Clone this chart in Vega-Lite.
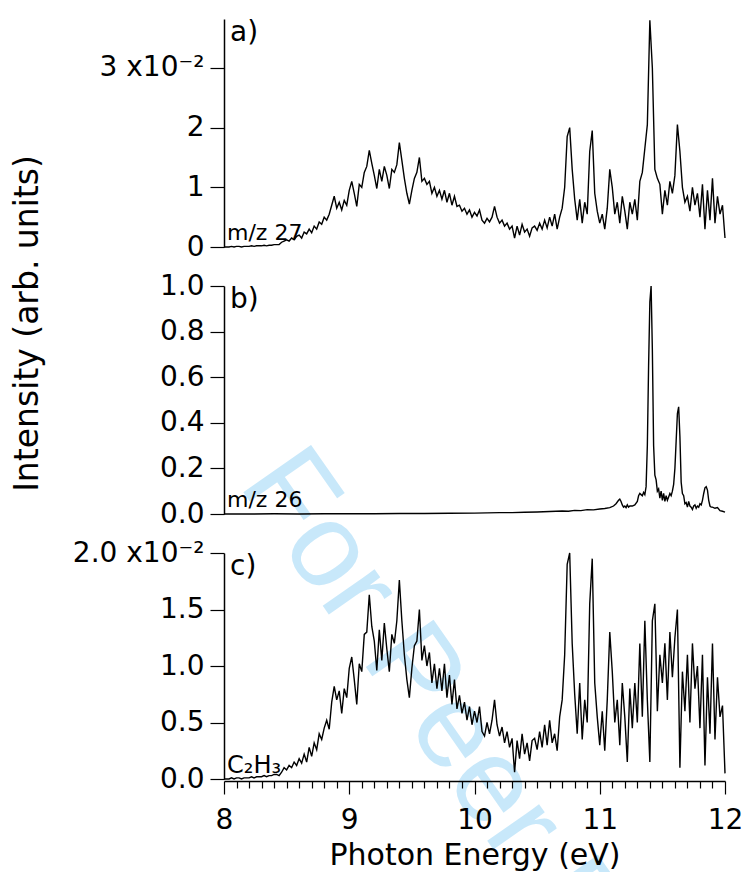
{
"$schema": "https://vega.github.io/schema/vega-lite/v6.json",
"padding": {"left": 10, "top": 17, "right": 20, "bottom": 5},
"background": "white",
"config": {
 "view": {"stroke": null},
 "axis": {"grid": false, "domainColor": "#000", "tickColor": "#000", "labelColor": "#000", "titleColor": "#000", "domainWidth": 1.5, "tickWidth": 1.2, "labelFont": "DejaVu Sans", "titleFont": "DejaVu Sans", "titleFontWeight": "normal"},
 "text": {"font": "DejaVu Sans", "color": "#000"}
},
"datasets": {
 "a": [
{"e":8.00,"v":0},{"e":8.02,"v":0},{"e":8.04,"v":0},{"e":8.06,"v":0.0001},{"e":8.08,"v":0},{"e":8.10,"v":0.0001},{"e":8.12,"v":0.0001},{"e":8.14,"v":0},{"e":8.16,"v":0.0001},{"e":8.18,"v":0.0001},
{"e":8.20,"v":0.0001},{"e":8.22,"v":0.0002},{"e":8.24,"v":0.0001},{"e":8.26,"v":0.0002},{"e":8.28,"v":0.0002},{"e":8.30,"v":0.0002},{"e":8.32,"v":0.0003},{"e":8.34,"v":0.0002},{"e":8.36,"v":0.0003},{"e":8.38,"v":0.0003},
{"e":8.40,"v":0.0004},{"e":8.42,"v":0.0004},{"e":8.44,"v":0.0004},{"e":8.46,"v":0.0008},{"e":8.48,"v":0.0010},{"e":8.50,"v":0.0012},{"e":8.52,"v":0.0010},{"e":8.54,"v":0.0015},{"e":8.56,"v":0.0012},{"e":8.58,"v":0.0018},
{"e":8.60,"v":0.0020},{"e":8.62,"v":0.0015},{"e":8.64,"v":0.0025},{"e":8.66,"v":0.0022},{"e":8.68,"v":0.0030},{"e":8.70,"v":0.0024},{"e":8.72,"v":0.0035},{"e":8.74,"v":0.0030},{"e":8.76,"v":0.0042},{"e":8.78,"v":0.0038},
{"e":8.80,"v":0.0050},{"e":8.82,"v":0.0045},{"e":8.84,"v":0.0055},{"e":8.86,"v":0.0070},{"e":8.88,"v":0.0085},{"e":8.90,"v":0.0065},{"e":8.92,"v":0.0075},{"e":8.94,"v":0.0062},{"e":8.96,"v":0.0078},{"e":8.98,"v":0.0070},
{"e":9.00,"v":0.0095},{"e":9.02,"v":0.0110},{"e":9.04,"v":0.0090},{"e":9.06,"v":0.0068},{"e":9.08,"v":0.0105},{"e":9.10,"v":0.0100},{"e":9.12,"v":0.0125},{"e":9.14,"v":0.0135},{"e":9.16,"v":0.0162},{"e":9.18,"v":0.0140},
{"e":9.20,"v":0.0120},{"e":9.22,"v":0.0098},{"e":9.24,"v":0.0130},{"e":9.26,"v":0.0110},{"e":9.28,"v":0.0135},{"e":9.30,"v":0.0120},{"e":9.32,"v":0.0098},{"e":9.34,"v":0.0130},{"e":9.36,"v":0.0125},{"e":9.38,"v":0.0138},
{"e":9.40,"v":0.0175},{"e":9.42,"v":0.0145},{"e":9.44,"v":0.0115},{"e":9.46,"v":0.0090},{"e":9.48,"v":0.0072},{"e":9.50,"v":0.0095},{"e":9.52,"v":0.0115},{"e":9.54,"v":0.0125},{"e":9.56,"v":0.0150},{"e":9.58,"v":0.0110},
{"e":9.60,"v":0.0115},{"e":9.62,"v":0.0105},{"e":9.64,"v":0.0110},{"e":9.66,"v":0.0090},{"e":9.68,"v":0.0100},{"e":9.70,"v":0.0085},{"e":9.72,"v":0.0095},{"e":9.74,"v":0.0080},{"e":9.76,"v":0.0095},{"e":9.78,"v":0.0075},
{"e":9.80,"v":0.0090},{"e":9.82,"v":0.0070},{"e":9.84,"v":0.0085},{"e":9.86,"v":0.0068},{"e":9.88,"v":0.0070},{"e":9.90,"v":0.0060},{"e":9.92,"v":0.0065},{"e":9.94,"v":0.0055},{"e":9.96,"v":0.0062},{"e":9.98,"v":0.0050},
{"e":10.00,"v":0.0058},{"e":10.02,"v":0.0052},{"e":10.04,"v":0.0062},{"e":10.06,"v":0.0045},{"e":10.08,"v":0.0040},{"e":10.10,"v":0.0048},{"e":10.12,"v":0.0042},{"e":10.14,"v":0.0050},{"e":10.16,"v":0.0068},{"e":10.18,"v":0.0050},
{"e":10.20,"v":0.0040},{"e":10.22,"v":0.0045},{"e":10.24,"v":0.0035},{"e":10.26,"v":0.0040},{"e":10.28,"v":0.0030},{"e":10.30,"v":0.0035},{"e":10.32,"v":0.0015},{"e":10.34,"v":0.0035},{"e":10.36,"v":0.0020},{"e":10.38,"v":0.0038},
{"e":10.40,"v":0.0025},{"e":10.42,"v":0.0030},{"e":10.44,"v":0.0018},{"e":10.46,"v":0.0032},{"e":10.48,"v":0.0035},{"e":10.50,"v":0.0028},{"e":10.52,"v":0.0040},{"e":10.54,"v":0.0030},{"e":10.56,"v":0.0045},{"e":10.58,"v":0.0032},
{"e":10.60,"v":0.0050},{"e":10.62,"v":0.0035},{"e":10.64,"v":0.0055},{"e":10.66,"v":0.0030},{"e":10.68,"v":0.0050},{"e":10.70,"v":0.0065},{"e":10.72,"v":0.0100},{"e":10.74,"v":0.0185},{"e":10.76,"v":0.0200},{"e":10.78,"v":0.0130},
{"e":10.80,"v":0.0080},{"e":10.82,"v":0.0045},{"e":10.84,"v":0.0080},{"e":10.86,"v":0.0040},{"e":10.88,"v":0.0075},{"e":10.90,"v":0.0055},{"e":10.92,"v":0.0160},{"e":10.94,"v":0.0195},{"e":10.96,"v":0.0090},{"e":10.98,"v":0.0060},
{"e":11.00,"v":0.0040},{"e":11.02,"v":0.0055},{"e":11.04,"v":0.0030},{"e":11.06,"v":0.0065},{"e":11.08,"v":0.0130},{"e":11.10,"v":0.0100},{"e":11.12,"v":0.0055},{"e":11.14,"v":0.0075},{"e":11.16,"v":0.0040},{"e":11.18,"v":0.0085},
{"e":11.20,"v":0.0060},{"e":11.22,"v":0.0030},{"e":11.24,"v":0.0075},{"e":11.26,"v":0.0055},{"e":11.28,"v":0.0080},{"e":11.30,"v":0.0045},{"e":11.32,"v":0.0110},{"e":11.34,"v":0.0125},{"e":11.36,"v":0.0165},{"e":11.38,"v":0.0205},
{"e":11.40,"v":0.0380},{"e":11.42,"v":0.0300},{"e":11.44,"v":0.0130},{"e":11.46,"v":0.0115},{"e":11.48,"v":0.0105},{"e":11.50,"v":0.0055},{"e":11.52,"v":0.0095},{"e":11.54,"v":0.0070},{"e":11.56,"v":0.0110},{"e":11.58,"v":0.0090},
{"e":11.60,"v":0.0120},{"e":11.62,"v":0.0205},{"e":11.64,"v":0.0160},{"e":11.66,"v":0.0100},{"e":11.68,"v":0.0075},{"e":11.70,"v":0.0085},{"e":11.72,"v":0.0060},{"e":11.74,"v":0.0100},{"e":11.76,"v":0.0070},{"e":11.78,"v":0.0090},
{"e":11.80,"v":0.0050},{"e":11.82,"v":0.0105},{"e":11.84,"v":0.0030},{"e":11.86,"v":0.0095},{"e":11.88,"v":0.0045},{"e":11.90,"v":0.0115},{"e":11.92,"v":0.0040},{"e":11.94,"v":0.0085},{"e":11.96,"v":0.0055},{"e":11.98,"v":0.0070},
{"e":12.00,"v":0.0015}
 ],
 "b": [
{"e":8.0,"v":0},{"e":8.2,"v":0},{"e":8.4,"v":0.001},{"e":8.6,"v":0},{"e":8.8,"v":0.001},{"e":9.0,"v":0.001},{"e":9.2,"v":0.001},{"e":9.4,"v":0.002},{"e":9.6,"v":0.002},{"e":9.8,"v":0.003},
{"e":10.0,"v":0.004},{"e":10.1,"v":0.005},{"e":10.2,"v":0.006},{"e":10.3,"v":0.006},{"e":10.4,"v":0.008},{"e":10.5,"v":0.009},{"e":10.6,"v":0.011},{"e":10.7,"v":0.013},{"e":10.75,"v":0.012},{"e":10.8,"v":0.016},
{"e":10.85,"v":0.015},{"e":10.9,"v":0.019},{"e":10.95,"v":0.018},{"e":11.0,"v":0.022},{"e":11.04,"v":0.024},{"e":11.08,"v":0.028},{"e":11.11,"v":0.035},{"e":11.13,"v":0.045},{"e":11.15,"v":0.06},{"e":11.16,"v":0.065},
{"e":11.17,"v":0.055},{"e":11.18,"v":0.04},{"e":11.19,"v":0.03},{"e":11.20,"v":0.035},{"e":11.21,"v":0.028},{"e":11.22,"v":0.04},{"e":11.23,"v":0.03},{"e":11.24,"v":0.035},{"e":11.26,"v":0.035},{"e":11.28,"v":0.04},
{"e":11.30,"v":0.055},{"e":11.31,"v":0.08},{"e":11.32,"v":0.09},{"e":11.33,"v":0.085},{"e":11.34,"v":0.08},{"e":11.35,"v":0.095},{"e":11.36,"v":0.085},{"e":11.37,"v":0.12},{"e":11.38,"v":0.3},{"e":11.39,"v":0.65},
{"e":11.40,"v":0.93},{"e":11.41,"v":1.0},{"e":11.42,"v":0.72},{"e":11.43,"v":0.3},{"e":11.44,"v":0.17},{"e":11.45,"v":0.15},{"e":11.46,"v":0.1},{"e":11.47,"v":0.11},{"e":11.48,"v":0.07},{"e":11.49,"v":0.1},
{"e":11.50,"v":0.06},{"e":11.51,"v":0.09},{"e":11.52,"v":0.055},{"e":11.53,"v":0.08},{"e":11.54,"v":0.06},{"e":11.55,"v":0.075},{"e":11.56,"v":0.09},{"e":11.57,"v":0.08},{"e":11.58,"v":0.1},{"e":11.59,"v":0.13},
{"e":11.60,"v":0.2},{"e":11.61,"v":0.32},{"e":11.62,"v":0.44},{"e":11.63,"v":0.47},{"e":11.64,"v":0.34},{"e":11.65,"v":0.14},{"e":11.66,"v":0.09},{"e":11.67,"v":0.08},{"e":11.68,"v":0.045},{"e":11.69,"v":0.05},
{"e":11.70,"v":0.03},{"e":11.71,"v":0.055},{"e":11.72,"v":0.035},{"e":11.73,"v":0.03},{"e":11.74,"v":0.02},{"e":11.75,"v":0.035},{"e":11.76,"v":0.04},{"e":11.77,"v":0.025},{"e":11.78,"v":0.035},{"e":11.79,"v":0.03},
{"e":11.80,"v":0.045},{"e":11.81,"v":0.04},{"e":11.82,"v":0.06},{"e":11.83,"v":0.09},{"e":11.84,"v":0.115},{"e":11.85,"v":0.12},{"e":11.86,"v":0.105},{"e":11.87,"v":0.06},{"e":11.88,"v":0.035},{"e":11.89,"v":0.03},
{"e":11.90,"v":0.03},{"e":11.92,"v":0.025},{"e":11.94,"v":0.028},{"e":11.96,"v":0.015},{"e":11.98,"v":0.012},{"e":12.0,"v":0.008}
 ],
 "c": [
{"e":8.00,"v":0},{"e":8.02,"v":0},{"e":8.04,"v":0},{"e":8.06,"v":0.0001},{"e":8.08,"v":0},{"e":8.10,"v":0.0001},{"e":8.12,"v":0.0001},{"e":8.14,"v":0},{"e":8.16,"v":0.0001},{"e":8.18,"v":0.0001},
{"e":8.20,"v":0.0001},{"e":8.22,"v":0.0002},{"e":8.24,"v":0.0001},{"e":8.26,"v":0.0002},{"e":8.28,"v":0.0002},{"e":8.30,"v":0.0002},{"e":8.32,"v":0.0003},{"e":8.34,"v":0.0002},{"e":8.36,"v":0.0003},{"e":8.38,"v":0.0003},
{"e":8.40,"v":0.0004},{"e":8.42,"v":0.0004},{"e":8.44,"v":0.0003},{"e":8.46,"v":0.0006},{"e":8.48,"v":0.0010},{"e":8.50,"v":0.0008},{"e":8.52,"v":0.0012},{"e":8.54,"v":0.0010},{"e":8.56,"v":0.0015},{"e":8.58,"v":0.0012},
{"e":8.60,"v":0.0018},{"e":8.62,"v":0.0014},{"e":8.64,"v":0.0022},{"e":8.66,"v":0.0015},{"e":8.68,"v":0.0028},{"e":8.70,"v":0.0020},{"e":8.72,"v":0.0032},{"e":8.74,"v":0.0026},{"e":8.76,"v":0.0040},{"e":8.78,"v":0.0035},
{"e":8.80,"v":0.0045},{"e":8.82,"v":0.0052},{"e":8.84,"v":0.0044},{"e":8.86,"v":0.0068},{"e":8.88,"v":0.0082},{"e":8.90,"v":0.0070},{"e":8.92,"v":0.0078},{"e":8.94,"v":0.0058},{"e":8.96,"v":0.0080},{"e":8.98,"v":0.0072},
{"e":9.00,"v":0.0098},{"e":9.02,"v":0.0108},{"e":9.04,"v":0.0088},{"e":9.06,"v":0.0066},{"e":9.08,"v":0.0102},{"e":9.10,"v":0.0095},{"e":9.12,"v":0.0128},{"e":9.14,"v":0.0130},{"e":9.16,"v":0.0163},{"e":9.18,"v":0.0135},
{"e":9.20,"v":0.0122},{"e":9.22,"v":0.0096},{"e":9.24,"v":0.0132},{"e":9.26,"v":0.0105},{"e":9.28,"v":0.0138},{"e":9.30,"v":0.0115},{"e":9.32,"v":0.0095},{"e":9.34,"v":0.0128},{"e":9.36,"v":0.0120},{"e":9.38,"v":0.0140},
{"e":9.40,"v":0.0176},{"e":9.42,"v":0.0140},{"e":9.44,"v":0.0110},{"e":9.46,"v":0.0088},{"e":9.48,"v":0.0072},{"e":9.50,"v":0.0098},{"e":9.52,"v":0.0118},{"e":9.54,"v":0.0122},{"e":9.56,"v":0.0150},{"e":9.58,"v":0.0105},
{"e":9.60,"v":0.0118},{"e":9.62,"v":0.0100},{"e":9.64,"v":0.0112},{"e":9.66,"v":0.0085},{"e":9.68,"v":0.0102},{"e":9.70,"v":0.0080},{"e":9.72,"v":0.0098},{"e":9.74,"v":0.0078},{"e":9.76,"v":0.0102},{"e":9.78,"v":0.0072},
{"e":9.80,"v":0.0092},{"e":9.82,"v":0.0066},{"e":9.84,"v":0.0088},{"e":9.86,"v":0.0062},{"e":9.88,"v":0.0074},{"e":9.90,"v":0.0058},{"e":9.92,"v":0.0068},{"e":9.94,"v":0.0052},{"e":9.96,"v":0.0064},{"e":9.98,"v":0.0048},
{"e":10.00,"v":0.0060},{"e":10.02,"v":0.0050},{"e":10.04,"v":0.0064},{"e":10.06,"v":0.0042},{"e":10.08,"v":0.0038},{"e":10.10,"v":0.0050},{"e":10.12,"v":0.0040},{"e":10.14,"v":0.0052},{"e":10.16,"v":0.0070},{"e":10.18,"v":0.0048},
{"e":10.20,"v":0.0038},{"e":10.22,"v":0.0046},{"e":10.24,"v":0.0032},{"e":10.26,"v":0.0042},{"e":10.28,"v":0.0028},{"e":10.30,"v":0.0036},{"e":10.32,"v":0.0006},{"e":10.34,"v":0.0034},{"e":10.36,"v":0.0018},{"e":10.38,"v":0.0040},
{"e":10.40,"v":0.0022},{"e":10.42,"v":0.0032},{"e":10.44,"v":0.0016},{"e":10.46,"v":0.0034},{"e":10.48,"v":0.0036},{"e":10.50,"v":0.0026},{"e":10.52,"v":0.0042},{"e":10.54,"v":0.0028},{"e":10.56,"v":0.0048},{"e":10.58,"v":0.0030},
{"e":10.60,"v":0.0052},{"e":10.62,"v":0.0032},{"e":10.64,"v":0.0040},{"e":10.66,"v":0.0025},{"e":10.68,"v":0.0055},{"e":10.70,"v":0.0070},{"e":10.72,"v":0.0110},{"e":10.74,"v":0.0190},{"e":10.76,"v":0.0200},{"e":10.78,"v":0.0120},
{"e":10.80,"v":0.0075},{"e":10.82,"v":0.0040},{"e":10.84,"v":0.0085},{"e":10.86,"v":0.0035},{"e":10.88,"v":0.0070},{"e":10.90,"v":0.0050},{"e":10.92,"v":0.0155},{"e":10.94,"v":0.0195},{"e":10.96,"v":0.0085},{"e":10.98,"v":0.0055},
{"e":11.00,"v":0.0030},{"e":11.02,"v":0.0060},{"e":11.04,"v":0.0025},{"e":11.06,"v":0.0070},{"e":11.08,"v":0.0130},{"e":11.10,"v":0.0095},{"e":11.12,"v":0.0050},{"e":11.14,"v":0.0070},{"e":11.16,"v":0.0030},{"e":11.18,"v":0.0085},
{"e":11.20,"v":0.0055},{"e":11.22,"v":0.0015},{"e":11.24,"v":0.0080},{"e":11.26,"v":0.0045},{"e":11.28,"v":0.0085},{"e":11.30,"v":0.0050},{"e":11.32,"v":0.0120},{"e":11.34,"v":0.0055},{"e":11.36,"v":0.0140},{"e":11.38,"v":0.0070},
{"e":11.40,"v":0.0015},{"e":11.42,"v":0.0140},{"e":11.44,"v":0.0155},{"e":11.46,"v":0.0060},{"e":11.48,"v":0.0110},{"e":11.50,"v":0.0085},{"e":11.52,"v":0.0120},{"e":11.54,"v":0.0070},{"e":11.56,"v":0.0130},{"e":11.58,"v":0.0090},
{"e":11.60,"v":0.0125},{"e":11.62,"v":0.0150},{"e":11.64,"v":0.0010},{"e":11.66,"v":0.0095},{"e":11.68,"v":0.0060},{"e":11.70,"v":0.0110},{"e":11.72,"v":0.0050},{"e":11.74,"v":0.0120},{"e":11.76,"v":0.0080},{"e":11.78,"v":0.0100},
{"e":11.80,"v":0.0045},{"e":11.82,"v":0.0110},{"e":11.84,"v":0.0012},{"e":11.86,"v":0.0090},{"e":11.88,"v":0.0040},{"e":11.90,"v":0.0120},{"e":11.92,"v":0.0035},{"e":11.94,"v":0.0090},{"e":11.96,"v":0.0055},{"e":11.98,"v":0.0065},
{"e":12.00,"v":0.0005}
 ]
},
"spacing": 39,
"bounds": "flush",
"vconcat": [
 {
  "width": 501, "height": 228,
  "layer": [
   {"data": {"name": "a"}, "mark": {"type": "line", "color": "#000", "strokeWidth": 1.4},
    "encoding": {
     "x": {"field": "e", "type": "quantitative", "scale": {"domain": [8, 12]}, "axis": null},
     "y": {"field": "v", "type": "quantitative", "scale": {"domain": [0, 0.0382], "nice": false},
      "axis": {"values": [0, 0.01, 0.02, 0.03], "labelExpr": "datum.value > 0.025 ? '3 x10⁻²' : format(datum.value*100, '.0f')", "tickSize": 14, "labelPadding": 6, "labelFontSize": 28, "title": null}}}},
   {"data": {"values": [{}]}, "mark": {"type": "text", "text": "a)", "align": "left", "baseline": "top", "fontSize": 28, "dx": 6, "dy": 0},
    "encoding": {"x": {"datum": 8, "type": "quantitative", "axis": null}, "y": {"datum": 0.0382, "type": "quantitative", "axis": {"title": null}}}},
   {"data": {"values": [{}]}, "mark": {"type": "text", "text": "m/z 27", "align": "left", "baseline": "alphabetic", "fontSize": 22, "dx": 3, "dy": -7},
    "encoding": {"x": {"datum": 8, "type": "quantitative", "axis": null}, "y": {"datum": 0, "type": "quantitative", "axis": {"title": null}}}}
  ]
 },
 {
  "width": 501, "height": 228,
  "layer": [
   {"data": {"values": [{}]}, "mark": {"type": "text", "text": "For Peer Review", "angle": 55, "align": "left", "baseline": "alphabetic", "fontSize": 120, "font": "Liberation Sans", "color": "#c8e8fa"},
    "encoding": {"x": {"datum": 8.11, "type": "quantitative", "scale": {"domain": [8, 12]}, "axis": null}, "y": {"datum": 0.13, "type": "quantitative", "scale": {"domain": [0, 1], "nice": false}, "axis": {"title": "Intensity (arb. units)"}}}},
   {"data": {"name": "b"}, "mark": {"type": "line", "color": "#000", "strokeWidth": 1.4},
    "encoding": {
     "x": {"field": "e", "type": "quantitative", "scale": {"domain": [8, 12]}, "axis": null},
     "y": {"field": "v", "type": "quantitative", "scale": {"domain": [0, 1], "nice": false},
      "axis": {"values": [0, 0.2, 0.4, 0.6, 0.8, 1.0], "format": ".1f", "tickSize": 14, "labelPadding": 6, "labelFontSize": 28,
       "title": "Intensity (arb. units)", "titleFontSize": 33, "titleX": -180, "titleY": 37}}}},
   {"data": {"values": [{}]}, "mark": {"type": "text", "text": "b)", "align": "left", "baseline": "top", "fontSize": 28, "dx": 6, "dy": 0},
    "encoding": {"x": {"datum": 8, "type": "quantitative", "axis": null}, "y": {"datum": 1, "type": "quantitative", "axis": {"title": "Intensity (arb. units)"}}}},
   {"data": {"values": [{}]}, "mark": {"type": "text", "text": "m/z 26", "align": "left", "baseline": "alphabetic", "fontSize": 22, "dx": 3, "dy": -7},
    "encoding": {"x": {"datum": 8, "type": "quantitative", "axis": null}, "y": {"datum": 0, "type": "quantitative", "axis": {"title": "Intensity (arb. units)"}}}}
  ]
 },
 {
  "width": 501, "height": 226,
  "resolve": {"axis": {"x": "independent"}},
  "layer": [
   {"data": {"name": "c"}, "mark": {"type": "line", "color": "#000", "strokeWidth": 1.4},
    "encoding": {
     "x": {"field": "e", "type": "quantitative", "scale": {"domain": [8, 12]}, "axis": null},
     "y": {"field": "v", "type": "quantitative", "scale": {"domain": [0, 0.02], "nice": false},
      "axis": {"values": [0, 0.005, 0.01, 0.015, 0.02], "labelExpr": "datum.value > 0.019 ? '2.0 x10⁻²' : format(datum.value*100, '.1f')", "tickSize": 14, "labelPadding": 6, "labelFontSize": 28, "title": null}}}},
   {"data": {"values": [{}]}, "mark": {"type": "text", "text": "c)", "align": "left", "baseline": "top", "fontSize": 28, "dx": 6, "dy": 0},
    "encoding": {"x": {"datum": 8, "type": "quantitative", "axis": null}, "y": {"datum": 0.02, "type": "quantitative", "axis": {"title": null}}}},
   {"data": {"values": [{}]}, "mark": {"type": "text", "text": "C₂H₃", "align": "left", "baseline": "alphabetic", "fontSize": 24, "dx": 3, "dy": -6},
    "encoding": {"x": {"datum": 8, "type": "quantitative",
      "axis": {"orient": "bottom", "values": [8, 8.1, 8.2, 8.3, 8.4, 8.5, 8.6, 8.7, 8.8, 8.9, 9, 9.1, 9.2, 9.3, 9.4, 9.5, 9.6, 9.7, 9.8, 9.9, 10, 10.1, 10.2, 10.3, 10.4, 10.5, 10.6, 10.7, 10.8, 10.9, 11, 11.1, 11.2, 11.3, 11.4, 11.5, 11.6, 11.7, 11.8, 11.9, 12],
       "labelExpr": "abs(datum.value - round(datum.value)) < 0.01 ? format(datum.value, 'd') : ''",
       "tickSize": {"condition": {"test": "abs(datum.value - round(datum.value)) < 0.01", "value": 13}, "value": 7},
       "offset": 2, "labelFlush": false, "labelOverlap": false, "labelFontSize": 28, "labelPadding": 12,
       "title": "Photon Energy (eV)", "titleFontSize": 30, "titlePadding": 6}},
     "y": {"datum": 0, "type": "quantitative", "axis": {"title": null}}}}
  ]
 }
]
}
